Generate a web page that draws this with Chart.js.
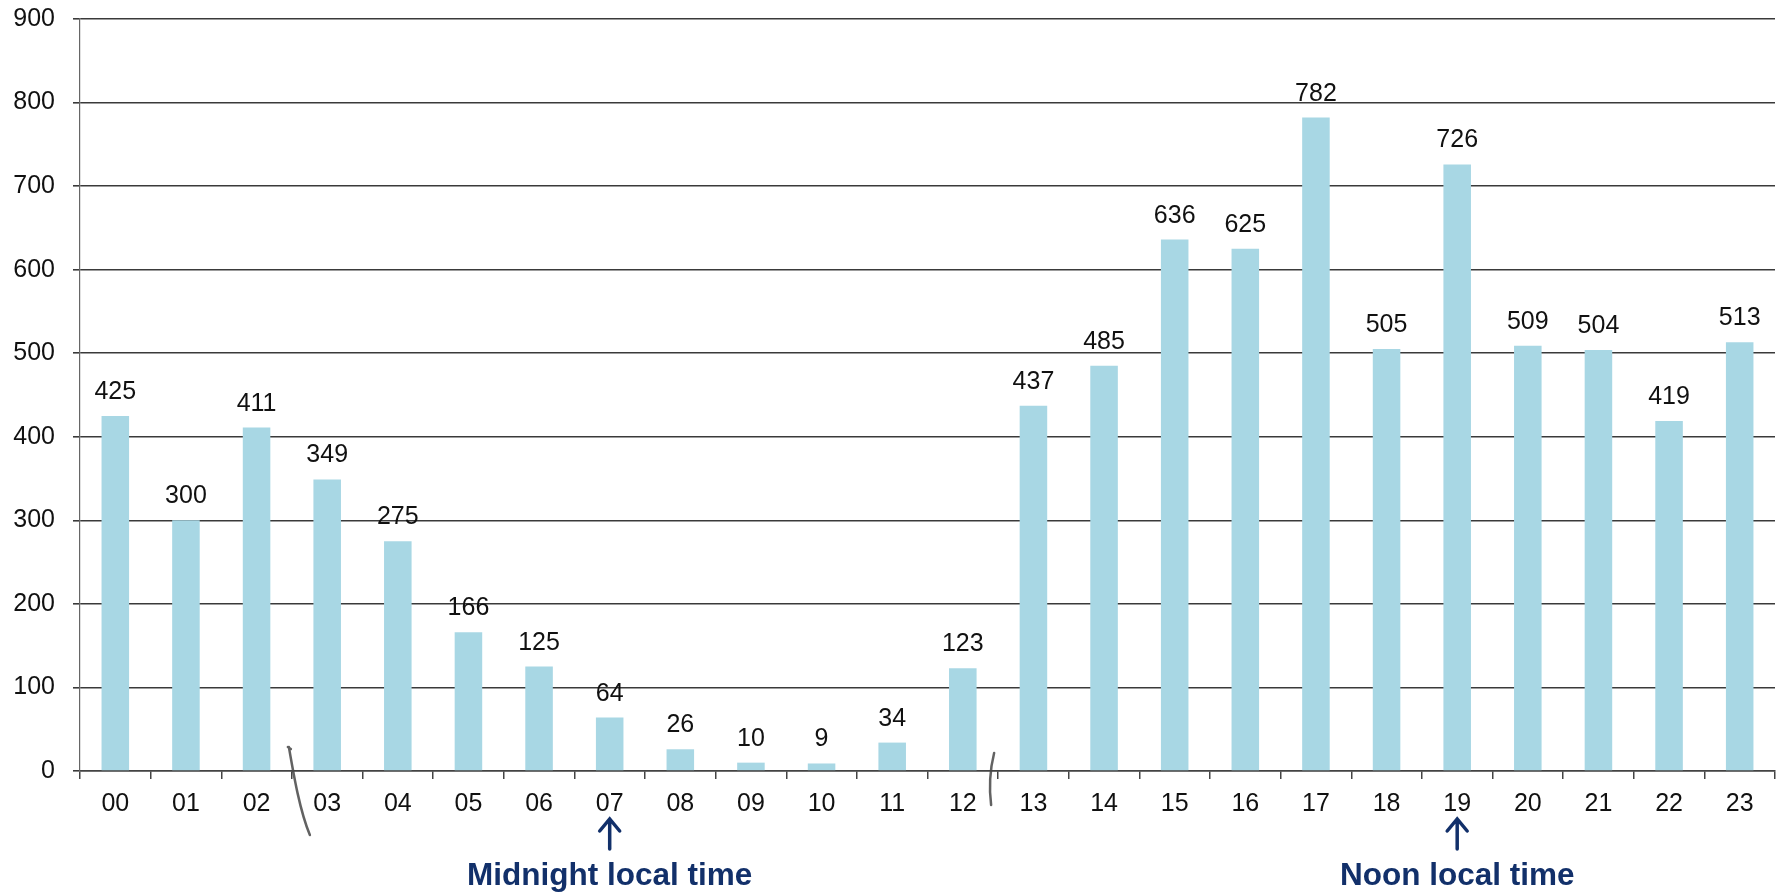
<!DOCTYPE html>
<html>
<head>
<meta charset="utf-8">
<title>Hourly totals</title>
<script src="https://cdn.jsdelivr.net/npm/chart.js@4/dist/chart.umd.min.js"></script>
<style>
    html, body { margin: 0; padding: 0; background: #fff; }
    #chartBox { width: 1778px; height: 895px; }
</style>
</head>
<body>
<div id="chartBox"><canvas id="hourChart" width="1778" height="895"></canvas></div>
<script>
// Hour of day (UTC) and the count for each hour
const hours = ['00', '01', '02', '03', '04', '05', '06', '07', '08', '09', '10', '11',
               '12', '13', '14', '15', '16', '17', '18', '19', '20', '21', '22', '23'];
const counts = [425, 300, 411, 349, 275, 166, 125, 64, 26, 10, 9, 34,
                123, 437, 485, 636, 625, 782, 505, 726, 509, 504, 419, 513];

// y axis range
const yMin = 0;
const yMax = 900;
const yStep = 100;

// arrows under the x axis
const notes = [
    { hour: '07', text: 'Midnight local time' },
    { hour: '19', text: 'Noon local time' }
];

const FONT = '"Liberation Sans", Arial, sans-serif';
const NAVY = '#12306a';

// value printed above each bar
const barValues = {
    id: 'barValues',
    afterDatasetsDraw(chart) {
        const ctx = chart.ctx;
        const meta = chart.getDatasetMeta(0);
        ctx.save();
        ctx.font = '25px ' + FONT;
        ctx.fillStyle = '#111';
        ctx.textAlign = 'center';
        ctx.textBaseline = 'alphabetic';
        meta.data.forEach((bar, i) => {
            ctx.fillText(String(counts[i]), bar.x, bar.y - 17);
        });
        ctx.restore();
    }
};

// arrows + captions, and the two pen strokes across the axis
const axisNotes = {
    id: 'axisNotes',
    afterDraw(chart) {
        const ctx = chart.ctx;
        const x = chart.scales.x;
        const base = chart.chartArea.bottom;
        ctx.save();

        notes.forEach(n => {
            const cx = x.getPixelForValue(hours.indexOf(n.hour));
            ctx.strokeStyle = NAVY;
            ctx.lineWidth = 3.5;
            ctx.lineCap = 'round';
            ctx.beginPath();
            ctx.moveTo(cx, base + 49);
            ctx.lineTo(cx, base + 78);
            ctx.moveTo(cx - 10, base + 60);
            ctx.lineTo(cx, base + 48);
            ctx.lineTo(cx + 10, base + 60);
            ctx.stroke();

            ctx.fillStyle = NAVY;
            ctx.font = 'bold 31.5px ' + FONT;
            ctx.textAlign = 'center';
            ctx.textBaseline = 'alphabetic';
            ctx.fillText(n.text, cx, base + 114);
        });

        // pen strokes between 02|03 and 12|13
        const gap = (a, b) => (x.getPixelForValue(a) + x.getPixelForValue(b)) / 2;
        ctx.strokeStyle = 'rgba(70,70,70,0.85)';
        ctx.lineWidth = 2.5;
        ctx.lineCap = 'round';
        let bx = gap(2, 3);
        ctx.beginPath();
        ctx.moveTo(bx - 1, base - 22);
        ctx.lineTo(bx - 4, base - 24);
        ctx.moveTo(bx - 3, base - 24);
        ctx.bezierCurveTo(bx + 2, base + 5, bx + 8, base + 40, bx + 18, base + 64);
        ctx.stroke();

        bx = gap(12, 13);
        ctx.beginPath();
        ctx.moveTo(bx - 4, base - 18);
        ctx.bezierCurveTo(bx - 8, base - 2, bx - 9, base + 18, bx - 7, base + 34);
        ctx.stroke();

        ctx.restore();
    }
};

new Chart(document.getElementById('hourChart'), {
    type: 'bar',
    data: {
        labels: hours,
        datasets: [{
            data: counts,
            backgroundColor: '#a8d7e4',
            borderWidth: 0,
            barPercentage: 0.39,
            categoryPercentage: 1.0
        }]
    },
    options: {
        responsive: false,
        animation: false,
        layout: { padding: { top: 19, right: 3, left: 0, bottom: 0 } },
        plugins: {
            legend: { display: false },
            tooltip: { enabled: false }
        },
        scales: {
            x: {
                offset: true,
                grid: {
                    display: true,
                    offset: true,
                    drawOnChartArea: false,
                    drawTicks: true,
                    tickLength: 8,
                    color: '#444',
                    lineWidth: 1.5
                },
                border: { display: true, color: '#444', width: 1.5 },
                ticks: {
                    color: '#111',
                    font: { family: FONT, size: 25 },
                    padding: 10,
                    maxRotation: 0,
                    autoSkip: false
                },
                afterFit(scale) { scale.height = 124; }
            },
            y: {
                min: yMin,
                max: yMax,
                ticks: {
                    stepSize: yStep,
                    color: '#111',
                    font: { family: FONT, size: 25 },
                    padding: 18
                },
                grid: {
                    color: '#3a3a3a',
                    lineWidth: 1.6,
                    tickLength: 7,
                    drawTicks: true
                },
                border: { display: true, color: '#666', width: 1.2 },
                afterFit(scale) {
                    scale.width = 80;
                    // let the layout padding alone decide where the plot starts
                    scale.paddingTop = 0;
                    scale.paddingBottom = 0;
                }
            }
        }
    },
    plugins: [barValues, axisNotes]
});
</script>
</body>
</html>
